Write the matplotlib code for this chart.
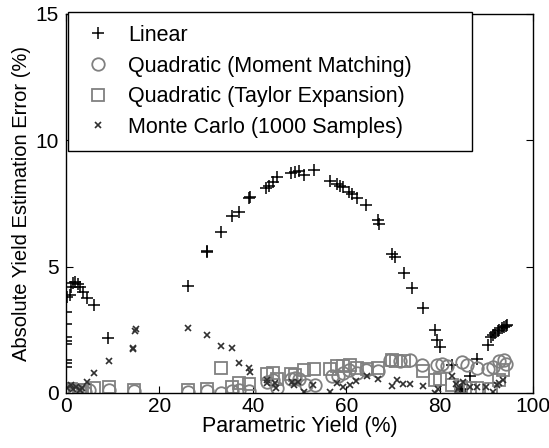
import matplotlib
matplotlib.use("Agg")
import matplotlib.pyplot as plt

plt.rcParams['font.family'] = ['Liberation Sans', 'DejaVu Sans']

# Linear approximation
lin_x = [0.1, 0.1, 0.1, 0.1, 0.1, 0.1, 0.1, 0.1, 0.2, 0.8, 1.1, 1.5, 2.0, 2.6, 3.1,
         3.6, 4.6, 6.0, 9.1, 26.1, 30.1, 30.3, 33.2, 35.5, 37.0, 39.3, 39.5, 42.8,
         43.5, 44.4, 45.2, 48.1, 49.0, 50.0, 51.0, 53.1, 56.5, 58.0, 58.7, 59.4,
         60.5, 61.2, 62.4, 64.2, 66.7, 67.0, 69.7, 70.4, 72.4, 74.0, 76.5, 79.0,
         79.5, 80.1, 82.6, 84.3, 84.5, 84.7, 86.5, 88.1, 90.4, 91.0, 91.4, 91.9,
         92.4, 92.8, 93.3, 93.8, 94.2, 94.5]
lin_y = [3.22, 2.73, 2.23, 2.07, 1.94, 1.31, 1.17, 1.02, 3.81, 3.88, 4.2, 4.34, 4.37,
         4.31, 4.18, 4.01, 3.77, 3.48, 2.16, 4.23, 5.6, 5.59, 6.36, 7.0, 7.17, 7.7,
         7.75, 8.1, 8.19, 8.36, 8.56, 8.69, 8.73, 8.8, 8.63, 8.82, 8.39, 8.26, 8.19,
         8.14, 7.94, 7.86, 7.7, 7.44, 6.85, 6.69, 5.5, 5.39, 4.76, 4.14, 3.35, 2.47,
         2.1, 1.83, 1.11, 0.1, 0.05, 0.15, 0.65, 1.33, 1.9, 2.2, 2.3, 2.37, 2.46,
         2.5, 2.55, 2.62, 2.66, 2.69]

# Quadratic, moment matching
qmm_x = [0.3, 1.0, 2.0, 3.0, 4.0, 5.0, 9.3, 14.5, 26.1, 30.1, 33.3, 35.5, 37.0, 39.3,
         43.0, 44.4, 45.2, 48.1, 49.0, 50.0, 51.5, 53.3, 56.9, 58.3, 59.4, 60.5,
         62.4, 64.2, 66.7, 69.4, 71.5, 73.6, 76.2, 79.4, 80.5, 81.6, 84.7, 85.8,
         88.1, 90.4, 91.5, 92.8, 93.8, 94.2]
qmm_y = [0.05, 0.08, 0.05, 0.1, 0.05, 0.12, 0.12, 0.06, 0.05, 0.06, 0.0, 0.08, 0.1,
         0.06, 0.45, 0.5, 0.2, 0.55, 0.6, 0.55, 0.32, 0.32, 0.65, 0.65, 0.8, 0.9,
         0.8, 0.9, 0.85, 1.3, 1.27, 1.3, 1.1, 1.1, 1.14, 1.06, 1.24, 1.1, 1.0, 0.95,
         1.04, 1.25, 1.3, 1.16]

# Quadratic, Taylor expansion
qte_x = [0.3, 1.0, 2.0, 3.0, 4.0, 6.0, 9.3, 14.5, 26.1, 30.1, 33.2, 35.5, 37.0, 39.3,
         43.0, 44.4, 45.2, 48.1, 49.0, 51.0, 53.1, 56.5, 58.0, 59.4, 60.8, 62.4,
         64.4, 66.7, 69.7, 70.7, 72.4, 76.5, 79.0, 80.1, 82.6, 84.5, 86.5, 88.1,
         91.0, 92.8, 93.5]
qte_y = [0.1, 0.15, 0.1, 0.12, 0.1, 0.2, 0.25, 0.1, 0.13, 0.15, 1.0, 0.25, 0.4, 0.35,
         0.75, 0.8, 0.55, 0.75, 0.7, 0.9, 0.95, 0.95, 1.05, 1.05, 1.1, 1.0, 0.95,
         0.98, 1.3, 1.25, 1.25, 0.85, 0.5, 0.55, 0.3, 0.25, 0.2, 0.2, 0.15, 0.5, 0.9]

# Monte Carlo, 1000 samples
mc_x = [0.3, 1.0, 1.5, 2.2, 3.0, 3.5, 4.6, 6.0, 9.3, 14.3, 14.4, 14.8, 15.1, 26.1,
        30.1, 33.3, 35.5, 37.1, 39.2, 39.4, 43.0, 43.1, 44.8, 44.9, 48.3, 48.9,
        49.6, 51.0, 53.0, 56.6, 58.0, 59.4, 60.8, 62.2, 64.4, 66.9, 69.7, 70.8,
        72.2, 73.7, 76.5, 79.0, 79.7, 82.6, 83.5, 84.0, 85.0, 86.5, 87.9, 90.0,
        91.5, 92.3, 92.8, 93.5]
mc_y = [0.2, 0.3, 0.15, 0.25, 0.1, 0.2, 0.45, 0.8, 1.28, 1.73, 1.78, 2.43, 2.52, 2.56,
        2.3, 1.86, 1.77, 1.2, 0.98, 0.84, 0.51, 0.38, 0.38, 0.18, 0.45, 0.3, 0.44,
        0.05, 0.32, 0.05, 0.38, 0.25, 0.32, 0.49, 0.67, 0.55, 0.29, 0.51, 0.36,
        0.36, 0.28, 0.01, 0.15, 0.65, 0.35, 0.15, 0.45, 0.25, 0.25, 0.25, 0.05,
        0.3, 0.4, 0.5]

fig = plt.figure(figsize=(5.49, 4.48), dpi=100)
ax = fig.add_axes([0.120, 0.123, 0.851, 0.846])

gray = '#808080'
ax.plot(lin_x, lin_y, '+', color='black', ms=9, mew=1.1, label='Linear')
ax.plot(qmm_x, qmm_y, 'o', mfc='none', mec=gray, ms=9, mew=1.3,
        label='Quadratic (Moment Matching)')
ax.plot(qte_x, qte_y, 's', mfc='none', mec=gray, ms=8.5, mew=1.3,
        label='Quadratic (Taylor Expansion)')
ax.plot(mc_x, mc_y, 'x', color='#303030', ms=5, mew=1.2,
        label='Monte Carlo (1000 Samples)')

ax.set_xlim(0, 100)
ax.set_ylim(0, 15)
ax.set_xticks([0, 20, 40, 60, 80, 100])
ax.set_yticks([0, 5, 10, 15])
ax.tick_params(direction='in', top=True, right=True, labelsize=15, length=5)
ax.tick_params(axis='x', pad=3)
ax.tick_params(axis='y', pad=5)
for s in ax.spines.values():
    s.set_linewidth(1.0)
ax.set_xlabel('Parametric Yield (%)', fontsize=15.5, labelpad=0)
ax.set_ylabel('Absolute Yield Estimation Error (%)', fontsize=14.5, labelpad=3)

leg = ax.legend(loc='upper left', bbox_to_anchor=(0.004, 1.005, 0.865, 0),
                mode='expand', fontsize=15.5, fancybox=False, edgecolor='black',
                framealpha=1, borderaxespad=0, borderpad=0.6, labelspacing=0.45,
                handletextpad=0.6, handlelength=1.6)
leg.get_frame().set_linewidth(1.0)

fig.savefig('out.png', dpi=100)
